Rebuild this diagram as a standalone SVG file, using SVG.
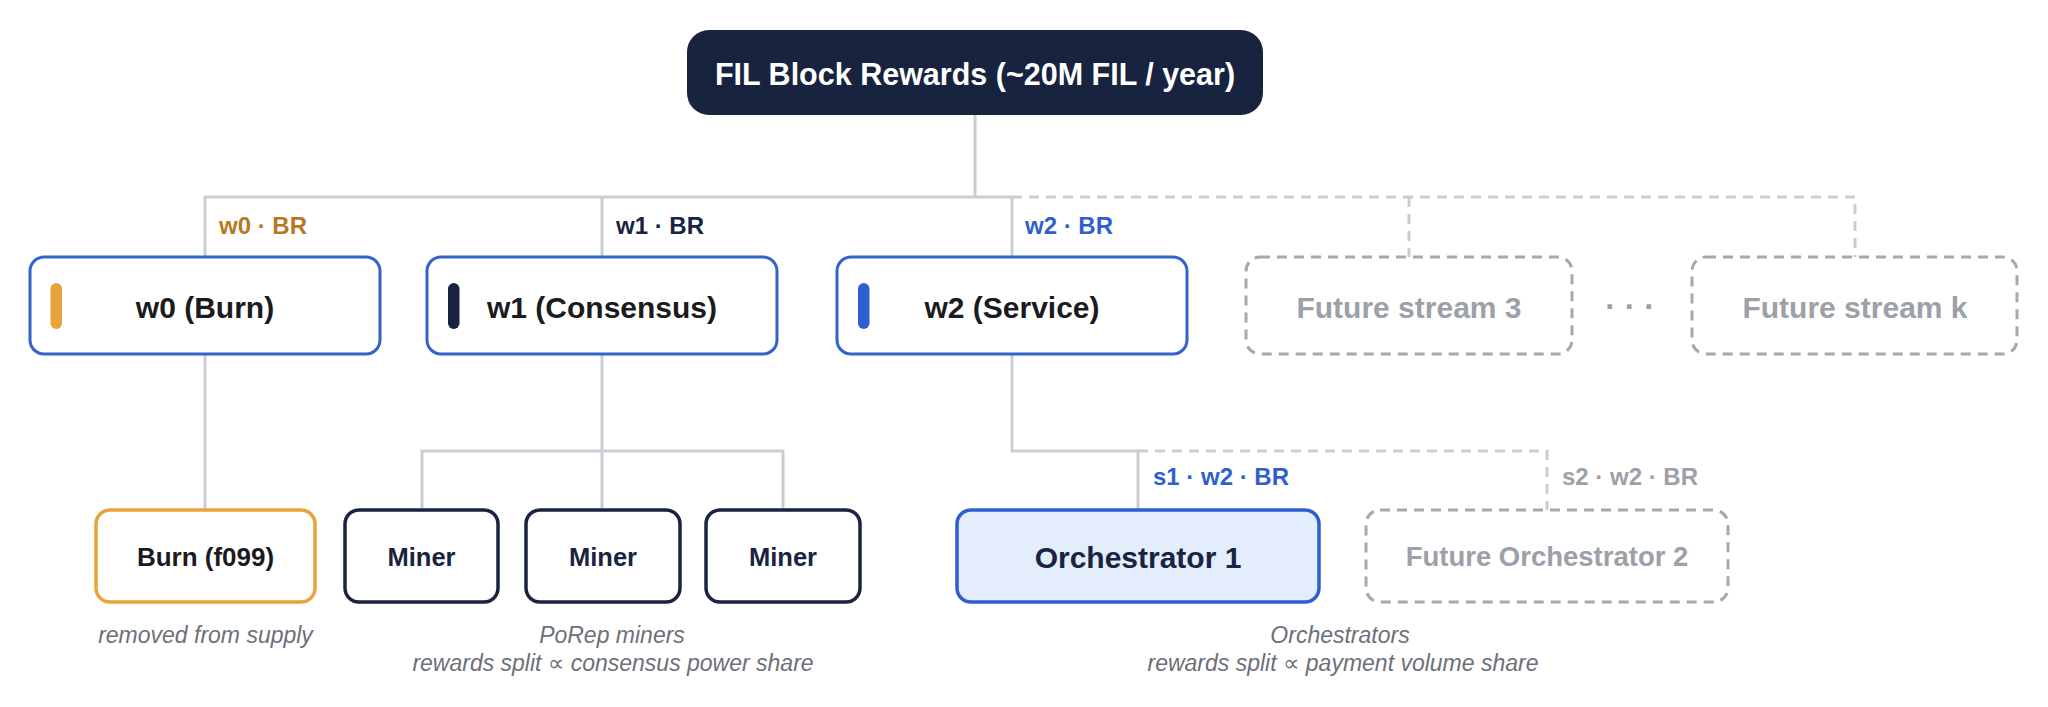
<svg xmlns="http://www.w3.org/2000/svg" width="2048" height="707" viewBox="0 0 2048 707">
<style>
text{font-family:"Liberation Sans",Arial,"DejaVu Sans",sans-serif}
.conn{fill:none;stroke:#c9cdd3;stroke-width:3}
.dash{fill:none;stroke:#c9cdd3;stroke-width:3;stroke-dasharray:10 7}
.l1{fill:#fff;stroke:#3463c9;stroke-width:3}
.fut{fill:#fff;stroke:#a4a8af;stroke-width:3;stroke-dasharray:10 7}
.t1{font-size:30px;font-weight:bold;fill:#1b1b1f;text-anchor:middle}
.tf{font-weight:bold;fill:#9ca0a8;text-anchor:middle}
.lbl{font-size:24px;font-weight:bold}
.cap{font-size:23px;font-style:italic;fill:#6c7079;text-anchor:middle}
.miner{fill:#fff;stroke:#1a2440;stroke-width:3.5}
.tm{font-size:25.5px;font-weight:bold;fill:#1a2440;text-anchor:middle}
</style>
<g id="connectors">
<path class="conn" d="M975 115 V197"/>
<path class="conn" d="M205 257 V197 H1012 V257"/>
<path class="conn" d="M602 197 V257"/>
<path class="dash" d="M1012 197 H1855 V257"/>
<path class="dash" d="M1409 197 V257"/>
<path class="conn" d="M205 354 V510"/>
<path class="conn" d="M602 354 V510"/>
<path class="conn" d="M422 510 V451 H783 V510"/>
<path class="conn" d="M1012 354 V451 H1138 V510"/>
<path class="dash" d="M1138 451 H1547 V510"/>
</g>
<g id="labels">
<text class="lbl" x="219" y="234" fill="#b7791f">w0 · BR</text>
<text class="lbl" x="616" y="234" fill="#1a2440">w1 · BR</text>
<text class="lbl" x="1025" y="234" fill="#2f5fcf">w2 · BR</text>
<text class="lbl" x="1153" y="485" font-size="24.5" fill="#2f5fcf">s1 · w2 · BR</text>
<text class="lbl" x="1562" y="485" fill="#9ca0a8">s2 · w2 · BR</text>
</g>
<g id="root">
<rect x="687" y="30" width="576" height="85" rx="22" fill="#17233f"/>
<text x="975" y="85" font-size="30.5" font-weight="bold" fill="#fff" text-anchor="middle">FIL Block Rewards (~20M FIL / year)</text>
</g>
<g id="w0">
<rect class="l1" x="30" y="257" width="350" height="97" rx="14"/>
<rect x="50.5" y="283" width="11.5" height="46" rx="5.75" fill="#e8a33a"/>
<text class="t1" x="205" y="318">w0 (Burn)</text>
</g>
<g id="w1">
<rect class="l1" x="427" y="257" width="350" height="97" rx="14"/>
<rect x="448" y="283" width="11.5" height="46" rx="5.75" fill="#17233f"/>
<text class="t1" x="602" y="318">w1 (Consensus)</text>
</g>
<g id="w2">
<rect class="l1" x="837" y="257" width="350" height="97" rx="14"/>
<rect x="858" y="283" width="11.5" height="46" rx="5.75" fill="#2f5fcf"/>
<text class="t1" x="1012" y="318">w2 (Service)</text>
</g>
<g id="future3">
<rect class="fut" x="1246" y="257" width="326" height="97" rx="14"/>
<text class="tf" x="1409" y="318" font-size="30">Future stream 3</text>
</g>
<text id="ellipsis" x="1630" y="317" font-size="32" font-weight="bold" fill="#9ca0a8" text-anchor="middle">· · ·</text>
<g id="futurek">
<rect class="fut" x="1692" y="257" width="325" height="97" rx="14"/>
<text class="tf" x="1855" y="318" font-size="30">Future stream k</text>
</g>
<g id="burn">
<rect x="96" y="510" width="219" height="92" rx="14" fill="#fff" stroke="#e8a33a" stroke-width="3.5"/>
<text x="205.5" y="566" font-size="26" font-weight="bold" fill="#1b1b1f" text-anchor="middle">Burn (f099)</text>
</g>
<g id="miner1">
<rect class="miner" x="345" y="510" width="153" height="92" rx="14"/>
<text class="tm" x="421.5" y="566">Miner</text>
</g>
<g id="miner2">
<rect class="miner" x="526" y="510" width="154" height="92" rx="14"/>
<text class="tm" x="603" y="566">Miner</text>
</g>
<g id="miner3">
<rect class="miner" x="706" y="510" width="154" height="92" rx="14"/>
<text class="tm" x="783" y="566">Miner</text>
</g>
<g id="orch1">
<rect x="957" y="510" width="362" height="92" rx="14" fill="#e3edfb" stroke="#2f5fcf" stroke-width="3.5"/>
<text x="1138" y="568" font-size="30" font-weight="bold" fill="#1a2440" text-anchor="middle">Orchestrator 1</text>
</g>
<g id="orch2">
<rect class="fut" x="1366" y="510" width="362" height="92" rx="14"/>
<text class="tf" x="1547" y="566" font-size="27.5">Future Orchestrator 2</text>
</g>
<g id="captions">
<text class="cap" x="205.5" y="643">removed from supply</text>
<text class="cap" x="612" y="643">PoRep miners</text>
<text class="cap" x="613" y="671">rewards split ∝  consensus power share</text>
<text class="cap" x="1340" y="643">Orchestrators</text>
<text class="cap" x="1343" y="671">rewards split ∝  payment volume share</text>
</g>
</svg>
